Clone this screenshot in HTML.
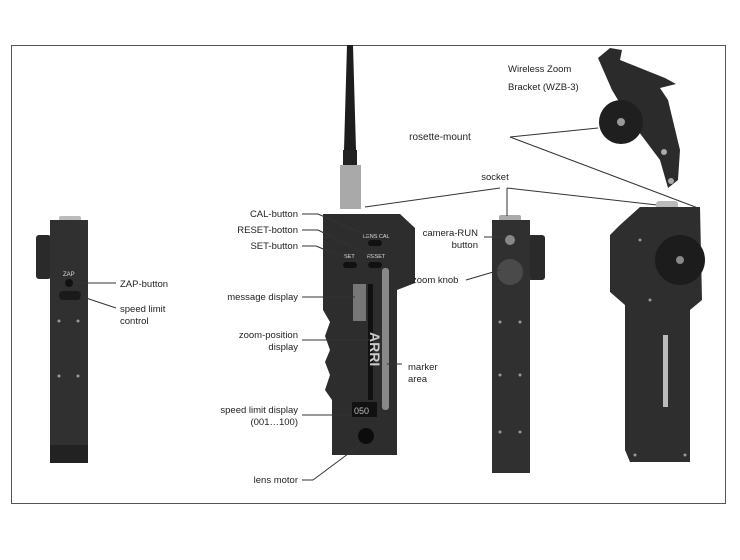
<!DOCTYPE html>
<html><head><style>
body{margin:0;background:#fff;width:740px;height:560px;overflow:hidden}
svg{display:block}
text{font-family:"Liberation Sans",sans-serif;font-size:9.5px;fill:#222}
</style></head><body>
<svg width="740" height="560" viewBox="0 0 740 560">
<rect x="11.5" y="45.5" width="714" height="458" fill="#fff" stroke="#555" stroke-width="1"/>

<!-- left device -->
<rect x="36" y="235" width="15" height="44" rx="3" fill="#2a2a2a"/>
<rect x="59" y="216" width="22" height="6" rx="2" fill="#bbb"/>
<rect x="50" y="220" width="38" height="243" fill="#303030"/>
<rect x="50" y="445" width="38" height="18" fill="#222"/>
<circle cx="69" cy="283" r="4" fill="#111"/>
<rect x="59" y="291" width="22" height="9" rx="4" fill="#1a1a1a"/>
<text x="63" y="276" style="font-size:6px;fill:#ddd">ZAP</text>
<circle cx="59" cy="321" r="1.5" fill="#999"/><circle cx="78" cy="321" r="1.5" fill="#999"/>
<circle cx="59" cy="376" r="1.5" fill="#999"/><circle cx="78" cy="376" r="1.5" fill="#999"/>
<line x1="73" y1="283" x2="116" y2="283" stroke="#333"/>
<line x1="80" y1="296" x2="116" y2="308" stroke="#333"/>
<text x="120" y="287">ZAP-button</text>
<text x="120" y="312">speed limit</text>
<text x="120" y="324">control</text>

<!-- middle device -->
<path d="M347 45 L353 45 L356 150 L344 150 Z" fill="#1d1d1d"/>
<rect x="343" y="150" width="14" height="15" fill="#222"/>
<rect x="340" y="165" width="21" height="44" fill="#a9a9a9"/>
<path d="M323 214 L400 214 L415 228 L415 283 L397 290 L397 455 L332 455 L332 400 L325 390 L330 375 L325 362 L330 350 L325 336 L330 322 L323 310 Z" fill="#2d2d2d"/>
<rect x="368" y="240" width="14" height="6" rx="3" fill="#111"/>
<rect x="343" y="262" width="14" height="6" rx="3" fill="#111"/>
<rect x="368" y="262" width="14" height="6" rx="3" fill="#111"/>
<text x="363" y="238" style="font-size:5.5px;fill:#ddd">LENS CAL</text>
<text x="344" y="258" style="font-size:5.5px;fill:#ddd">SET</text>
<text x="367" y="258" style="font-size:5.5px;fill:#ddd">RESET</text>
<rect x="353" y="284" width="13" height="37" fill="#777"/>
<rect x="368" y="284" width="5" height="116" fill="#111"/>
<rect x="382" y="268" width="7" height="142" rx="3" fill="#888"/>
<rect x="352" y="402" width="25" height="15" fill="#111"/>
<text x="354" y="414" style="font-size:9px;fill:#bbb">050</text>
<circle cx="366" cy="436" r="8" fill="#0c0c0c"/>
<text x="352" y="330" style="font-size:14px;font-weight:bold;fill:#ccc" transform="rotate(90 360 340)">ARRI</text>
<g stroke="#333" fill="none">
<line x1="302" y1="214" x2="318" y2="214"/><line x1="318" y1="214" x2="368" y2="236"/>
<line x1="302" y1="230" x2="318" y2="230"/><line x1="318" y1="230" x2="372" y2="257"/>
<line x1="302" y1="246" x2="316" y2="246"/><line x1="316" y1="246" x2="345" y2="258"/>
<line x1="302" y1="297" x2="355" y2="297"/>
<line x1="302" y1="340" x2="370" y2="340"/>
<line x1="387" y1="364" x2="402" y2="364"/>
<line x1="302" y1="415" x2="352" y2="415"/>
<line x1="302" y1="480" x2="313" y2="480"/><line x1="313" y1="480" x2="360" y2="445"/>
<line x1="365" y1="207" x2="500" y2="188"/>
</g>
<g text-anchor="end">
<text x="298" y="217">CAL-button</text>
<text x="298" y="233">RESET-botton</text>
<text x="298" y="249">SET-button</text>
<text x="298" y="300">message display</text>
<text x="298" y="338">zoom-position</text>
<text x="298" y="350">display</text>
<text x="298" y="413">speed limit display</text>
<text x="298" y="425">(001…100)</text>
<text x="298" y="483">lens motor</text>
</g>
<text x="408" y="370">marker</text>
<text x="408" y="382">area</text>

<!-- third device -->
<rect x="528" y="235" width="17" height="45" rx="3" fill="#2a2a2a"/>
<rect x="499" y="215" width="22" height="6" rx="2" fill="#aaa"/>
<rect x="492" y="220" width="38" height="253" fill="#303030"/>
<circle cx="510" cy="240" r="5" fill="#888"/>
<circle cx="510" cy="272" r="13" fill="#4a4a4a"/>
<circle cx="500" cy="322" r="1.5" fill="#999"/><circle cx="520" cy="322" r="1.5" fill="#999"/>
<circle cx="500" cy="375" r="1.5" fill="#999"/><circle cx="520" cy="375" r="1.5" fill="#999"/>
<circle cx="500" cy="432" r="1.5" fill="#999"/><circle cx="520" cy="432" r="1.5" fill="#999"/>
<text x="495" y="180" text-anchor="middle">socket</text>
<g stroke="#333" fill="none">
<line x1="507" y1="188" x2="507" y2="216"/>
<line x1="507" y1="188" x2="657" y2="205"/>
<line x1="484" y1="237" x2="504" y2="237"/>
<line x1="466" y1="280" x2="500" y2="270"/>
<line x1="510" y1="137" x2="598" y2="128"/>
<line x1="510" y1="137" x2="698" y2="208"/><line x1="698" y1="208" x2="698" y2="243"/>
</g>
<text x="478" y="236" text-anchor="end">camera-RUN</text>
<text x="478" y="248" text-anchor="end">button</text>
<text x="412" y="283">zoom knob</text>
<text x="440" y="140" text-anchor="middle" style="font-size:10px">rosette-mount</text>
<text x="508" y="72">Wireless Zoom</text>
<text x="508" y="90">Bracket (WZB-3)</text>

<!-- bracket -->
<path d="M598 58 L610 48 L622 50 L620 60 L640 68 L665 78 L676 84 L660 88 L668 100 L680 150 L678 180 L668 188 L660 160 L645 140 L630 120 L612 90 Z" fill="#2b2b2b"/>
<circle cx="621" cy="122" r="22" fill="#1f1f1f"/>
<circle cx="621" cy="122" r="4" fill="#999"/>
<circle cx="664" cy="152" r="3" fill="#aaa"/>
<circle cx="671" cy="181" r="3" fill="#aaa"/>

<!-- right device -->
<rect x="656" y="201" width="22" height="10" rx="3" fill="#bbb"/>
<path d="M620 225 L640 207 L700 207 L702 300 L690 310 L690 462 L630 462 L625 450 L625 305 L610 292 L610 235 Z" fill="#2e2e2e"/>
<circle cx="680" cy="260" r="25" fill="#1c1c1c"/>
<circle cx="680" cy="260" r="4" fill="#888"/>
<rect x="663" y="335" width="5" height="72" fill="#bbb"/>
<circle cx="640" cy="240" r="1.5" fill="#999"/><circle cx="650" cy="300" r="1.5" fill="#999"/>
<circle cx="635" cy="455" r="1.5" fill="#999"/><circle cx="685" cy="455" r="1.5" fill="#999"/>
</svg>
</body></html>
